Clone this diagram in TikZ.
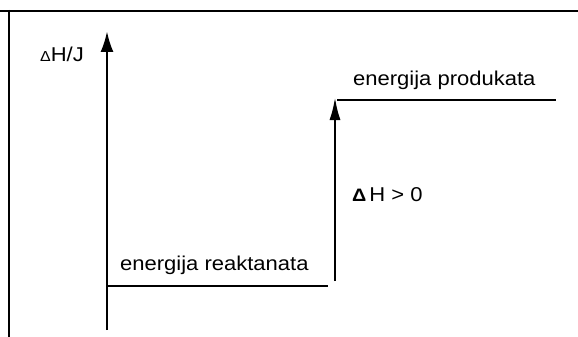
\documentclass[tikz,border=0pt]{standalone}
\usepackage{fontspec}
\setmainfont{Liberation Sans}[FakeStretch=1.1]
\usetikzlibrary{arrows.meta}

\begin{document}
\begin{tikzpicture}[x=1pt,y=-1pt,
  crta/.style={line width=2.6pt},
  os/.style={line width=2.6pt, -{Latex[length=21pt,width=13pt]}},
  oznaka/.style={inner sep=0pt, anchor=base west, font=\fontsize{20}{24}\selectfont}]
\useasboundingbox (0,0) rectangle (578,337);
% okvir (gornji i lijevi rub)
\coordinate (gL) at (0,11);
\coordinate (gD) at (578,11);
\coordinate (lG) at (9,10);
\coordinate (lD) at (9,337);
\draw[crta] (gL) -- (gD);
\draw[crta] (lG) -- (lD);
% os entalpije
\coordinate (osDno) at (107,330);
\coordinate (osVrh) at (107,31);
\draw[os] (osDno) -- (osVrh);
\node[oznaka] (osOzn) at (40,62) {{\fontsize{14.5}{16}\selectfont Δ}H/J};
% razina reaktanata
\coordinate (reakL) at (106,286);
\coordinate (reakD) at (328,286);
\draw[crta] (reakL) -- (reakD);
\node[oznaka] (reakOzn) at (120,270) {energija reaktanata};
% razina produkata
\coordinate (prodL) at (337,100);
\coordinate (prodD) at (556,100);
\draw[crta] (prodL) -- (prodD);
\node[oznaka] (prodOzn) at (353,85) {energija produkata};
% promjena entalpije
\coordinate (dhDno) at (335,281);
\coordinate (dhVrh) at (335,97);
\draw[os, -{Latex[length=23pt,width=11pt]}] (dhDno) -- (dhVrh);
\node[oznaka] (dhOzn) at (352,201.5) {{\fontsize{18}{20}\selectfont\bfseries Δ}\hspace{3pt}H > 0};
\end{tikzpicture}
\end{document}
